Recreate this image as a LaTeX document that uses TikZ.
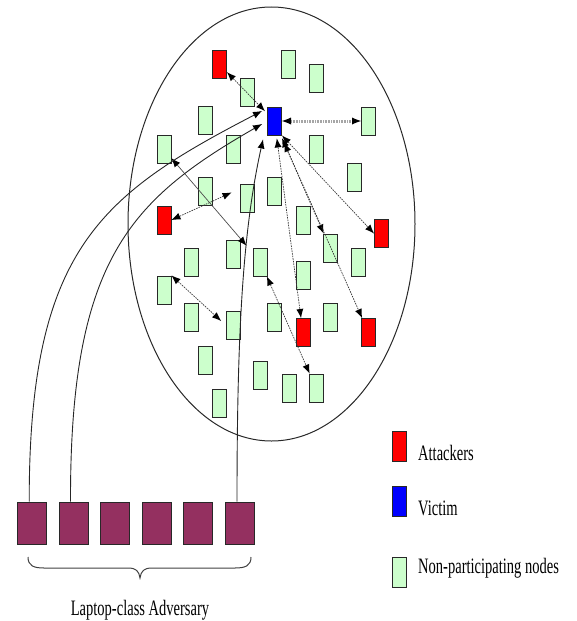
\documentclass[tikz,border=0pt]{standalone}
\usepackage{fontspec}
\setmainfont{Liberation Serif}
\usetikzlibrary{arrows.meta,calc}
\definecolor{nodegreen}{RGB}{204,255,204}
\definecolor{advcol}{RGB}{148,48,96}
\definecolor{edgecol}{RGB}{40,40,40}
\newcommand\narrowtext[1]{\scalebox{0.66}[1]{#1}}
\tikzset{
  box/.style={draw=edgecol, line width=1pt, inner sep=0pt, minimum width=14pt, minimum height=28pt},
  gbox/.style={box, fill=nodegreen},
  rbox/.style={box, fill=red},
  vbox/.style={box, fill=blue},
  keybox/.style={box, minimum height=30pt},
  abox/.style={draw=edgecol, line width=1pt, fill=advcol, inner sep=0pt, minimum width=29pt, minimum height=42pt},
  >={Latex[length=9pt,width=7pt,color=black,line width=0pt]},
  link/.style={<->, draw=gray!45!black, line width=0.7pt, dash pattern=on 1.6pt off 1pt},
  plainlink/.style={<->, draw=gray!60!black, line width=0.7pt},
  hatch/.style={<->, draw=gray!70, line width=3pt, dash pattern=on 0.8pt off 0.8pt},
  feed/.style={->, draw=black!85, line width=0.9pt},
  lab/.style={inner sep=0pt, font=\fontsize{22}{26}\selectfont}
}
\begin{document}
\begin{tikzpicture}[x=1pt,y=-1pt]
\useasboundingbox (0,0) rectangle (576,621);

% sensor field
\draw[edgecol, line width=1pt] (271.5,224) ellipse [x radius=143.5pt, y radius=217pt];

% victim and attackers
\node[vbox] (v) at (274.5,121) {};
\node[rbox] (r1) at (219.5,64.5) {};
\node[rbox] (r2) at (164,220) {};
\node[rbox] (r3) at (381.5,233.5) {};
\node[rbox] (r4) at (303,332.5) {};
\node[rbox] (r5) at (368.5,332.5) {};

% non-participating nodes
\node[gbox] (g1) at (288.5,64.5) {};
\node[gbox] (g2) at (316,78.5) {};
\node[gbox] (g3) at (247,92) {};
\node[gbox] (g4) at (368.5,121) {};
\node[gbox] (g5) at (205,120.5) {};
\node[gbox] (g6) at (164,149.5) {};
\node[gbox] (g7) at (233,149.5) {};
\node[gbox] (g8) at (316,149.5) {};
\node[gbox] (g9) at (354,177) {};
\node[gbox] (g10) at (205,191.5) {};
\node[gbox] (g11) at (247,198.5) {};
\node[gbox] (g12) at (274.5,191.5) {};
\node[gbox] (g13) at (303,220) {};
\node[gbox] (g14) at (233,254.5) {};
\node[gbox] (g15) at (191.5,262) {};
\node[gbox] (g16) at (260.5,262) {};
\node[gbox] (g17) at (330,248) {};
\node[gbox] (g18) at (358,262) {};
\node[gbox] (g19) at (303,275.5) {};
\node[gbox] (g20) at (164,290) {};
\node[gbox] (g21) at (191.5,317.5) {};
\node[gbox] (g22) at (233,325) {};
\node[gbox] (g23) at (274.5,317.5) {};
\node[gbox] (g24) at (330,317.5) {};
\node[gbox] (g25) at (205,360.5) {};
\node[gbox] (g26) at (260.5,375) {};
\node[gbox] (g27) at (289,388) {};
\node[gbox] (g28) at (316,388) {};
\node[gbox] (g29) at (219.5,403) {};

% adversary laptops
\node[abox] (a1) at (32.2,523) {};
\node[abox] (a2) at (73.5,523) {};
\node[abox] (a3) at (115,523) {};
\node[abox] (a4) at (157,523) {};
\node[abox] (a5) at (198.3,523) {};
\node[abox] (a6) at (240,523) {};

% traffic inside the field
\draw[link, shorten >=3pt] (r1) -- (v);
\draw[hatch] (v) -- (g4);
\draw[link] (r2.east) -- ($(g11.west)+(-8,-6)$);
\draw[plainlink, shorten >=10pt] (g6) -- (g16);
\draw[link, shorten >=6pt] (g20.north east) -- (g22.west);
\draw[link] (g16) -- (g28);
\draw[link, shorten <=3pt] (v) -- (r4);
\draw[link, shorten <=3pt] (v) -- (g17);
\draw[link, shorten <=8pt] (v) -- (r5);
\draw[link] (v.south east) -- (r3.west);

% long-range links from the laptops
\draw[feed] ([xshift=-3pt]a1.north) .. controls (29,250) and (100,195) .. ([xshift=-5pt,yshift=10pt]v.west);
\draw[feed] ([xshift=-3pt]a2.north) .. controls (70,260) and (130,200) .. ([xshift=-5pt,yshift=-3pt]v.west);
\draw[feed] ([xshift=-3pt]a6.north) .. controls (237,330) and (243,230) .. ([xshift=-4pt,yshift=-4pt]v.south west);

% brace under the laptops
\draw[gray!50!black, line width=1pt]
  (28,557) .. controls (28,566) and (34,568) .. (44,568) -- (128,568)
  .. controls (136,568) and (139,571) .. (140,578)
  .. controls (141,571) and (144,568) .. (152,568) -- (235,568)
  .. controls (245,568) and (251,566) .. (251,557);
\node[lab, anchor=base] (advlabel) at (140,615) {\narrowtext{Laptop-class Adversary}};

% key
\node[keybox, fill=red] (kr) at (399,446) {};
\node[keybox, fill=blue] (kv) at (399,501) {};
\node[keybox, fill=nodegreen] (kg) at (399,572) {};
\node[lab, anchor=base west] (tr) at (418,460) {\narrowtext{Attackers}};
\node[lab, anchor=base west] (tv) at (418,515) {\narrowtext{Victim}};
\node[lab, anchor=base west] (tg) at (418,573) {\narrowtext{Non-participating nodes}};
\end{tikzpicture}
\end{document}
